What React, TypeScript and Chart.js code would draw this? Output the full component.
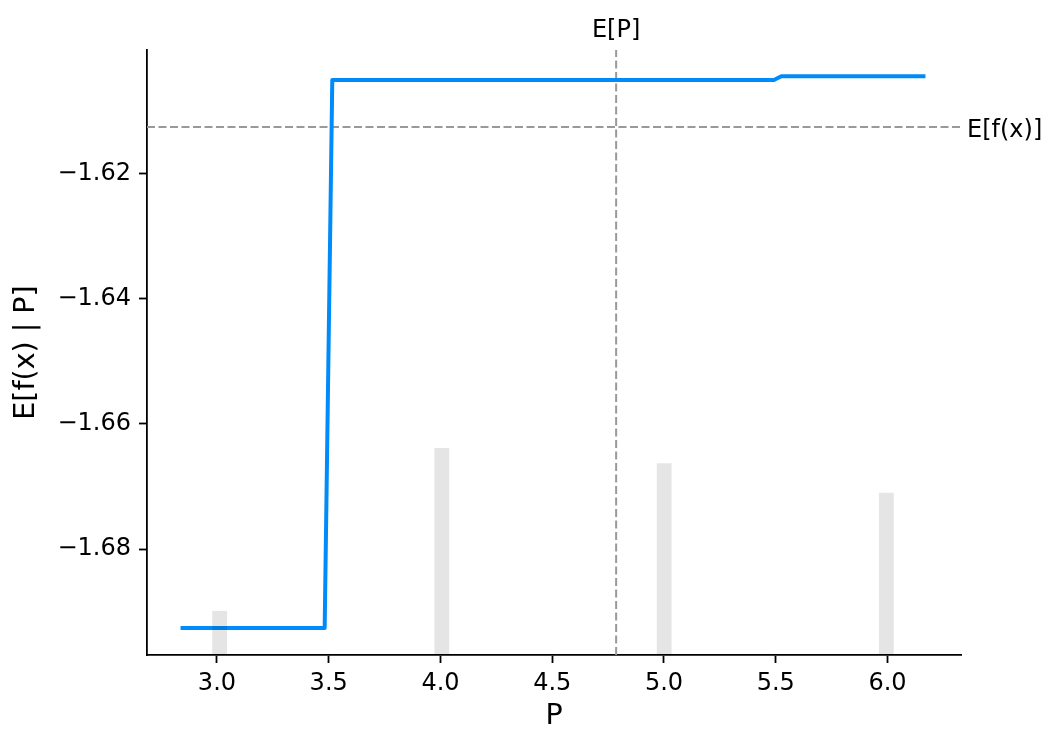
import { useEffect, useRef } from "react";
import { Chart, registerables } from "chart.js";

Chart.register(...registerables);

// Partial dependence of the model output on feature P
const P_GRID = [2.846, 3.482, 3.516, 5.492, 5.525, 6.161];
const E_F_GIVEN_P = [-1.6926, -1.6926, -1.6051, -1.6051, -1.6045, -1.6045];

// Histogram of P values (50 bins over the grid range; only non-empty bins listed)
const BIN_CENTERS = [3.012, 4.006, 5.001, 5.995];
const BIN_COUNTS = [73, 342, 317, 268];
const BIN_WIDTH = 0.0663;
const SAMPLE_COUNT = 1000;

// Reference values
const EXPECTED_P = 4.786;
const EXPECTED_FX = -1.6126;

// Axes
const X_TICKS = [3.0, 3.5, 4.0, 4.5, 5.0, 5.5, 6.0];
const Y_TICKS = [-1.68, -1.66, -1.64, -1.62];
const X_LIMITS = [2.687, 6.329];
const Y_LIMITS = [-1.6969, -1.6003];

const FONT = '"DejaVu Sans", sans-serif';
const LINE_BLUE = "#008bfb";
const REF_GREY = "#999999";

function fmtMinus(v: number, digits: number): string {
  const s = Math.abs(v).toFixed(digits);
  return v < 0 ? "\u2212" + s : s;
}

function smallestGap(values: number[]): number {
  const sorted = [...values].sort((a, b) => a - b);
  let g = Infinity;
  for (let i = 1; i < sorted.length; i++) g = Math.min(g, sorted[i] - sorted[i - 1]);
  return g;
}

const referenceLabels = {
  id: "referenceLabels",
  afterDraw(chart: any) {
    const { ctx, chartArea, scales } = chart;
    ctx.save();
    ctx.fillStyle = "#000";
    ctx.font = `24px ${FONT}`;
    ctx.textBaseline = "alphabetic";
    ctx.textAlign = "center";
    ctx.fillText("E[P]", scales.x.getPixelForValue(EXPECTED_P), chartArea.top - 13);
    ctx.textAlign = "left";
    ctx.fillText("E[f(x)]", chartArea.right + 6, scales.y.getPixelForValue(EXPECTED_FX) + 10);
    ctx.restore();
  },
};

export default function App() {
  const canvasRef = useRef<HTMLCanvasElement | null>(null);

  useEffect(() => {
    if (!canvasRef.current) return;
    // Chart.js sizes bars from the smallest pixel gap among data points and ticks
    const minGap = Math.min(smallestGap(BIN_CENTERS), smallestGap(X_TICKS));
    const axisLine = { display: true, color: "#000", width: 1.8 };
    const tickMarks = {
      display: true,
      offset: false,
      drawOnChartArea: false,
      drawTicks: true,
      tickLength: 8,
      tickWidth: 1.8,
      tickColor: "#000",
    };

    const chart = new Chart(canvasRef.current, {
      type: "line",
      data: {
        datasets: [
          {
            type: "bar",
            data: BIN_CENTERS.map((x, i) => ({ x, y: BIN_COUNTS[i] })),
            yAxisID: "yHist",
            backgroundColor: "rgba(0,0,0,0.1)",
            borderWidth: 0,
            barPercentage: BIN_WIDTH / minGap,
            categoryPercentage: 1,
            grouped: false,
            order: 0,
          } as any,
          {
            type: "line",
            data: P_GRID.map((x, i) => ({ x, y: E_F_GIVEN_P[i] })),
            yAxisID: "y",
            borderColor: LINE_BLUE,
            borderWidth: 4,
            pointRadius: 0,
            tension: 0,
            fill: false,
            borderCapStyle: "square",
            borderJoinStyle: "round",
            order: 1,
          },
          {
            type: "line",
            data: [
              { x: EXPECTED_P, y: Y_LIMITS[0] },
              { x: EXPECTED_P, y: Y_LIMITS[1] },
            ],
            yAxisID: "y",
            borderColor: REF_GREY,
            borderWidth: 2,
            borderDash: [8, 3.5],
            pointRadius: 0,
            fill: false,
            order: 2,
          },
          {
            type: "line",
            data: [
              { x: X_LIMITS[0], y: EXPECTED_FX },
              { x: X_LIMITS[1], y: EXPECTED_FX },
            ],
            yAxisID: "y",
            borderColor: REF_GREY,
            borderWidth: 2,
            borderDash: [8, 3.5],
            pointRadius: 0,
            fill: false,
            order: 2,
          },
        ],
      },
      options: {
        animation: false,
        responsive: false,
        devicePixelRatio: 1,
        events: [],
        layout: { padding: { top: 50, right: 89, left: 0, bottom: 0 } },
        plugins: { legend: { display: false }, tooltip: { enabled: false } },
        scales: {
          x: {
            type: "linear",
            position: "bottom",
            offset: false,
            min: X_LIMITS[0],
            max: X_LIMITS[1],
            afterFit: (s: any) => {
              s.height = 76;
            },
            afterBuildTicks: (s: any) => {
              s.ticks = X_TICKS.map((value) => ({ value }));
            },
            ticks: {
              callback: (v: any) => fmtMinus(Number(v), 1),
              font: { family: FONT, size: 24 },
              color: "#000",
              padding: 6,
              autoSkip: false,
              maxRotation: 0,
            },
            grid: tickMarks,
            border: axisLine,
            title: {
              display: true,
              text: "P",
              color: "#000",
              font: { family: FONT, size: 28.5, lineHeight: 1 },
              padding: { top: 0, bottom: 0.5 },
            },
          },
          y: {
            type: "linear",
            position: "left",
            offset: false,
            min: Y_LIMITS[0],
            max: Y_LIMITS[1],
            afterFit: (s: any) => {
              s.width = 147;
            },
            afterBuildTicks: (s: any) => {
              s.ticks = Y_TICKS.map((value) => ({ value }));
            },
            ticks: {
              callback: (v: any) => fmtMinus(Number(v), 2),
              font: { family: FONT, size: 24 },
              color: "#000",
              padding: 8,
              autoSkip: false,
            },
            grid: tickMarks,
            border: axisLine,
            title: {
              display: true,
              text: "E[f(x) | P]",
              color: "#000",
              font: { family: FONT, size: 28.5, lineHeight: 1.2 },
              padding: { top: 9.6, bottom: 0 },
            },
          },
          yHist: {
            type: "linear",
            display: false,
            min: 0,
            max: SAMPLE_COUNT,
          },
        },
      } as any,
      plugins: [referenceLabels],
    });

    return () => chart.destroy();
  }, []);

  return (
    <div style={{ position: "fixed", left: 0, top: 0, width: 1050, height: 731, background: "#fff" }}>
      <canvas ref={canvasRef} width={1050} height={731} />
    </div>
  );
}
